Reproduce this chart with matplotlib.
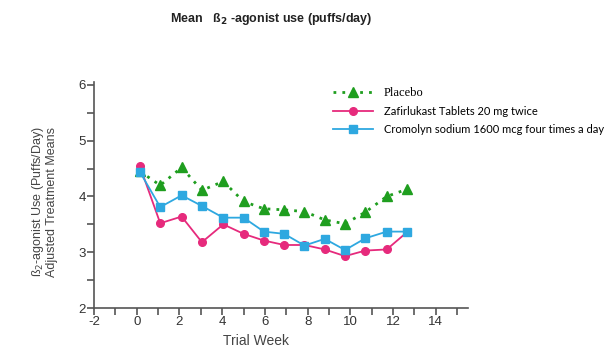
import matplotlib
matplotlib.use("Agg")
import matplotlib.pyplot as plt
from matplotlib.ticker import MultipleLocator

plt.rcParams['font.family'] = ['Liberation Sans', 'DejaVu Sans']
plt.rcParams['axes.unicode_minus'] = False

# values
weeks = [0.15, 1.1, 2.1, 3.05, 4.05, 5.0, 5.95, 6.9, 7.85, 8.8, 9.75, 10.7, 11.7, 12.65]
placebo = [4.45, 4.20, 4.52, 4.11, 4.27, 3.91, 3.78, 3.76, 3.73, 3.58, 3.51, 3.72, 4.00, 4.13]
zafirlukast = [4.54, 3.52, 3.64, 3.18, 3.50, 3.33, 3.21, 3.13, 3.13, 3.05, 2.93, 3.03, 3.05, 3.36]
cromolyn = [4.44, 3.81, 4.02, 3.83, 3.62, 3.62, 3.37, 3.33, 3.12, 3.24, 3.04, 3.25, 3.37, 3.37]

labels = ["Placebo", "Zafirlukast Tablets 20 mg twice",
          "Cromolyn sodium 1600 mcg four times a day"]

green = "#1f9e1f"
pink = "#e62a7c"
blue = "#2ea8e0"

fig = plt.figure(figsize=(6.16, 3.51), dpi=100)
ax = fig.add_axes([0.1526, 0.1225, 0.607, 0.645])

ax.plot(weeks, placebo, color=green, linestyle=(0, (1, 2.2)), linewidth=2,
        marker="^", markersize=6.5, label=labels[0], zorder=2)
ax.plot(weeks, zafirlukast, color=pink, linewidth=1.3,
        marker="o", markersize=5.5, label=labels[1], zorder=3)
ax.plot(weeks, cromolyn, color=blue, linewidth=1.3,
        marker="s", markersize=5.5, label=labels[2], zorder=4)

ax.set_xlim(-2, 15.5)
ax.set_ylim(2, 6.06)
ax.set_xticks(range(-2, 15, 2))
ax.xaxis.set_minor_locator(MultipleLocator(1))
ax.set_yticks(range(2, 7))
ax.yaxis.set_minor_locator(MultipleLocator(0.5))

for s in ["top", "right"]:
    ax.spines[s].set_visible(False)
for s in ["left", "bottom"]:
    ax.spines[s].set_color("#555555")
    ax.spines[s].set_linewidth(1.2)

ax.tick_params(which="both", direction="out", color="#555555", width=1.2,
               labelsize=9.5, labelcolor="#333333")
ax.tick_params(which="major", length=5, pad=1)
ax.tick_params(which="minor", length=5)

ax.set_xlabel("Trial Week", fontsize=10, color="#444444")
ax.xaxis.set_label_coords(0.433, -0.115)
ax.set_ylabel("ß$_2$-agonist Use (Puffs/Day)\nAdjusted Treatment Means",
              fontsize=9, color="#444444", linespacing=1.0)
ax.yaxis.set_label_coords(-0.095, 0.47)

fig.text(0.44, 0.945, r"Mean   ß$_{\mathbf{2}}$ -agonist use (puffs/day)",
         fontsize=9, fontweight="bold", ha="center", va="center", color="#222222")

leg = ax.legend(loc="upper left", bbox_to_anchor=(0.627, 0.995), frameon=False,
                handlelength=3.6, handletextpad=1.0, labelspacing=0.6,
                fontsize=8, borderaxespad=0)
texts = leg.get_texts()
texts[0].set_fontfamily("Liberation Serif")
texts[0].set_fontsize(9)
for t in texts[1:]:
    t.set_fontfamily("Lato")
    t.set_fontsize(8)

fig.savefig("out.png", dpi=100)
